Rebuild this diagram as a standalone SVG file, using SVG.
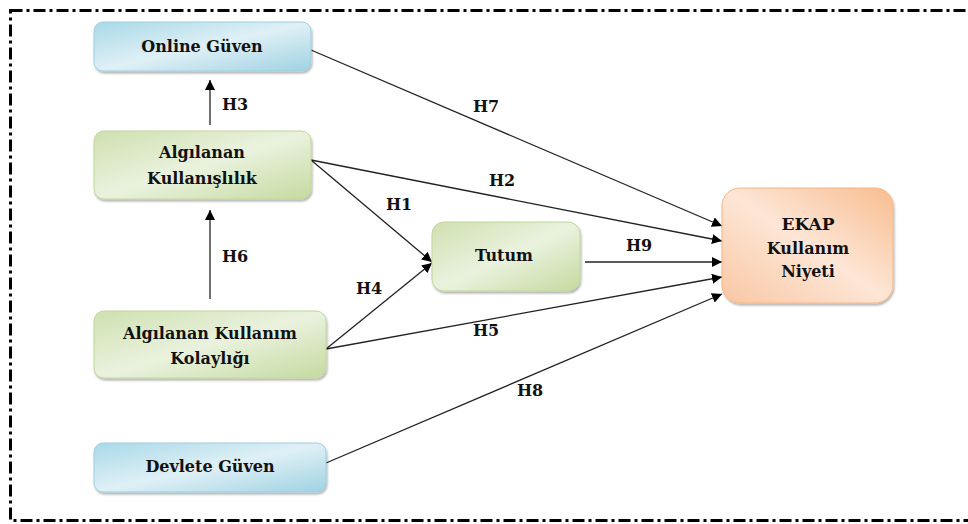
<svg xmlns="http://www.w3.org/2000/svg" width="968" height="524" viewBox="0 0 968 524">
<defs>
<linearGradient id="gBlue" x1="0" y1="0" x2="1" y2="1">
<stop offset="0" stop-color="#a9d9e8"/>
<stop offset="0.5" stop-color="#dff0f6"/>
<stop offset="1" stop-color="#9fd2e2"/>
</linearGradient>
<linearGradient id="gGreen" x1="0" y1="0" x2="1" y2="1">
<stop offset="0" stop-color="#cfe0b0"/>
<stop offset="0.5" stop-color="#eaf2de"/>
<stop offset="1" stop-color="#c5da9f"/>
</linearGradient>
<linearGradient id="gOrange" x1="1" y1="0" x2="0" y2="1">
<stop offset="0" stop-color="#f8bd90"/>
<stop offset="0.5" stop-color="#fde6d6"/>
<stop offset="1" stop-color="#f9c7a3"/>
</linearGradient>
<filter id="sh" x="-10%" y="-10%" width="120%" height="130%">
<feDropShadow dx="1" dy="2" stdDeviation="1" flood-color="#000" flood-opacity="0.3"/>
</filter>
<marker id="ah" viewBox="0 0 10 10" refX="10" refY="5" markerWidth="10" markerHeight="10" markerUnits="userSpaceOnUse" orient="auto">
<path d="M0,0 L10,5 L0,10 z" fill="#000"/>
</marker>
</defs>
<style>
.node text{font-family:"DejaVu Serif","Liberation Serif",serif;font-weight:bold;font-size:16px;fill:#111;text-anchor:middle}
.lbl{font-family:"DejaVu Serif","Liberation Serif",serif;font-weight:bold;font-size:16px;fill:#111}
.conn line{stroke:#222;stroke-width:1.3;marker-end:url(#ah)}
.blue{fill:url(#gBlue);stroke:#9ccfe0;stroke-width:1}
.green{fill:url(#gGreen);stroke:#c0d69a;stroke-width:1}
.orange{fill:url(#gOrange);stroke:#f3b688;stroke-width:1}
</style>
<rect x="0" y="0" width="968" height="524" fill="#fff"/>
<rect x="10.5" y="10.5" width="975" height="510" fill="none" stroke="#000" stroke-width="3" stroke-dasharray="12 4 3 4"/>

<g class="conn">
<line x1="210" y1="125" x2="210" y2="80"/>
<line x1="210" y1="299" x2="210" y2="210"/>
<line x1="311" y1="50" x2="722" y2="226"/>
<line x1="311" y1="160" x2="722" y2="241"/>
<line x1="311" y1="160" x2="432" y2="262"/>
<line x1="326" y1="349" x2="432" y2="263"/>
<line x1="585" y1="262" x2="722" y2="262"/>
<line x1="326" y1="349" x2="722" y2="277"/>
<line x1="326" y1="463" x2="722" y2="294"/>
<text class="lbl" x="222" y="110">H3</text>
<text class="lbl" x="222" y="262">H6</text>
<text class="lbl" x="473" y="112">H7</text>
<text class="lbl" x="489" y="186">H2</text>
<text class="lbl" x="386" y="210">H1</text>
<text class="lbl" x="356" y="294">H4</text>
<text class="lbl" x="626" y="251">H9</text>
<text class="lbl" x="473" y="336">H5</text>
<text class="lbl" x="517" y="396">H8</text>
</g>

<g id="online-guven" class="node">
<rect x="94" y="22" width="217" height="49" rx="9" class="blue" filter="url(#sh)"/>
<text x="202" y="52">Online Güven</text>
</g>
<g id="algilanan-kullanislilik" class="node">
<rect x="94" y="131" width="217" height="68" rx="10" class="green" filter="url(#sh)"/>
<text x="202" y="158">Algılanan</text>
<text x="202" y="184">Kullanışlılık</text>
</g>
<g id="algilanan-kullanim-kolayligi" class="node">
<rect x="94" y="311" width="232" height="67" rx="10" class="green" filter="url(#sh)"/>
<text x="210" y="339">Algılanan Kullanım</text>
<text x="210" y="364">Kolaylığı</text>
</g>
<g id="devlete-guven" class="node">
<rect x="94" y="443" width="232" height="49" rx="9" class="blue" filter="url(#sh)"/>
<text x="210" y="472">Devlete Güven</text>
</g>
<g id="tutum" class="node">
<rect x="432" y="222" width="148" height="69" rx="12" class="green" filter="url(#sh)"/>
<text x="504" y="261">Tutum</text>
</g>
<g id="ekap" class="node">
<rect x="722" y="188" width="171" height="115" rx="18" class="orange" filter="url(#sh)"/>
<text x="808" y="230" style="font-size:17px">EKAP</text>
<text x="808" y="254">Kullanım</text>
<text x="808" y="277">Niyeti</text>
</g>
</svg>
